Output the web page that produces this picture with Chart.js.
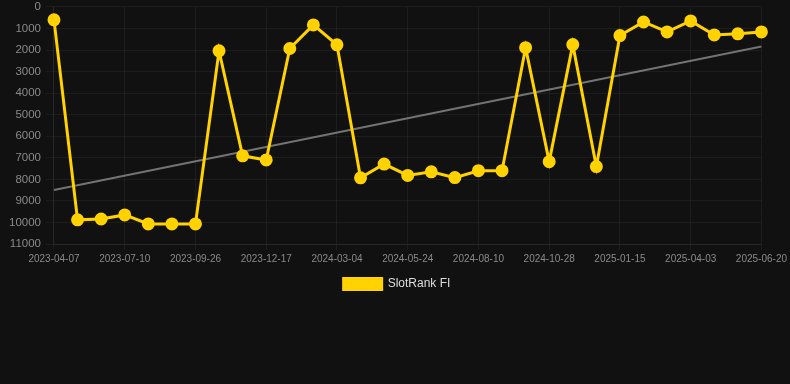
<!DOCTYPE html>
<html>
<head>
<meta charset="utf-8">
<script src="https://cdn.jsdelivr.net/npm/chart.js@4"></script>
<style>
html,body{margin:0;padding:0;background:#111111;overflow:hidden;}
#wrap{width:790px;height:305px;position:relative;top:-5px;}
</style>
</head>
<body>
<div id="wrap"><canvas id="c"></canvas></div>
<script>
const dates = [
  "2023-04-07","2023-05-08","2023-06-09","2023-07-10","2023-08-05","2023-08-31",
  "2023-09-26","2023-10-23","2023-11-20","2023-12-17","2024-01-13","2024-02-08",
  "2024-03-04","2024-04-01","2024-04-28","2024-05-24","2024-06-19","2024-07-15",
  "2024-08-10","2024-09-05","2024-10-02","2024-10-28","2024-11-23","2024-12-20",
  "2025-01-15","2025-02-10","2025-03-08","2025-04-03","2025-04-29","2025-05-25",
  "2025-06-20"
];
const rankFI = [
  600, 9880, 9840, 9650, 10070, 10070, 10070, 2040, 6910, 7100,
  1930, 835, 1760, 7930, 7290, 7820, 7650, 7920, 7600, 7600,
  1890, 7180, 1750, 7410, 1330, 700, 1160, 650, 1300, 1250, 1160
];
const trendStart = 8490;
const trendEnd = 1840;
const trend = dates.map((d, i) => i === 0 ? trendStart : (i === dates.length - 1 ? trendEnd : null));
const yTicks = [0,1000,2000,3000,4000,5000,6000,7000,8000,9000,10000,11000];

new Chart(document.getElementById('c'), {
  type: 'line',
  data: {
    labels: dates,
    datasets: [
      {
        label: 'SlotRank FI',
        data: rankFI,
        borderColor: '#ffd200',
        backgroundColor: '#ffd200',
        borderWidth: 3,
        pointRadius: 5,
        pointHoverRadius: 5,
        pointBackgroundColor: '#ffd200',
        pointBorderColor: '#ffd200',
        tension: 0
      },
      {
        label: 'trend',
        data: trend,
        spanGaps: true,
        borderColor: 'rgba(140,140,140,0.8)',
        borderWidth: 2,
        pointRadius: 0,
        fill: false
      }
    ]
  },
  options: {
    responsive: true,
    maintainAspectRatio: false,
    animation: false,
    layout: { padding: { left: 4, right: 0, top: 0, bottom: 0 } },
    plugins: {
      legend: {
        position: 'bottom',
        labels: {
          color: '#dddddd',
          font: { size: 12 },
          boxWidth: 38,
          boxHeight: 11,
          filter: (item) => item.text !== 'trend'
        }
      },
      tooltip: { enabled: false }
    },
    scales: {
      x: {
        grid: { color: 'rgba(255,255,255,0.05)', tickLength: 6 },
        border: { color: 'rgba(255,255,255,0.05)' },
        ticks: {
          color: '#8a8a8a',
          font: { size: 10 },
          maxRotation: 0,
          autoSkip: false,
          callback: function(v, i) { return i % 3 === 0 ? this.getLabelForValue(v) : null; }
        }
      },
      y: {
        reverse: true,
        min: 0,
        max: 11000,
        afterBuildTicks: (axis) => { axis.ticks = yTicks.map(v => ({ value: v })); },
        grid: { color: 'rgba(255,255,255,0.05)' },
        border: { color: 'rgba(255,255,255,0.05)' },
        ticks: { color: '#8a8a8a', font: { size: 11.5 }, padding: 5, callback: (v) => String(v) }
      }
    }
  }
});
</script>
</body>
</html>
